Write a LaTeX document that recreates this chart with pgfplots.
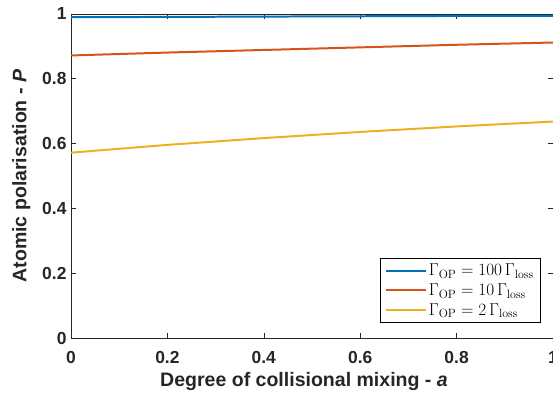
\documentclass[border=0pt]{standalone}
\usepackage[no-math]{fontspec}
\setmainfont{Liberation Sans}
\usepackage{pgfplots}
\pgfplotsset{compat=1.18}
\definecolor{mblue}{rgb}{0,0.447,0.741}
\definecolor{morange}{rgb}{0.85,0.325,0.098}
\definecolor{myellow}{rgb}{0.929,0.694,0.125}
\definecolor{axgray}{rgb}{0.15,0.15,0.15}
\begin{document}
\begin{tikzpicture}
\begin{axis}[
  scale only axis,
  width=482bp, height=324bp,
  xmin=0, xmax=1, ymin=0, ymax=1,
  xtick={0,0.2,0.4,0.6,0.8,1},
  ytick={0,0.2,0.4,0.6,0.8,1},
  tick align=inside,
  major tick length=5bp,
  axis line style={axgray, line width=0.6pt},
  every tick/.style={axgray, line width=0.6pt},
  /pgf/number format/assume math mode=true,
  tick label style={font=\fontsize{17.5}{17.5}\selectfont\bfseries, text=axgray},
  xticklabel style={yshift=-10bp},
  yticklabel style={xshift=-1bp},
  xlabel={Degree of collisional mixing - \textit{a}},
  ylabel={Atomic polarisation - \textit{P}},
  label style={font=\fontsize{19.6}{19.6}\selectfont\bfseries, text=axgray},
  xlabel style={yshift=-2bp, xshift=-8bp},
  ylabel style={yshift=5bp},
  legend cell align=left,
  legend style={at={(1,0)}, anchor=south east, xshift=-12bp, yshift=15bp,
    draw=black, line width=0.6pt, fill=white, inner xsep=5bp, inner ysep=4bp,
    font=\fontsize{17.5}{19}\selectfont, row sep=2.5bp,
    /tikz/every even column/.append style={column sep=0bp}},
  legend image code/.code={\draw[#1, line width=2pt] (0bp,0bp) -- (40bp,0bp);},
]
\addplot[mblue, line width=2pt] coordinates {(0,0.990) (0.2,0.991) (0.4,0.992) (0.6,0.993) (0.8,0.994) (1,0.994)};
\addlegendentry{$\Gamma_{\mathrm{OP}} = 100\,\Gamma_{\mathrm{loss}}$}
\addplot[morange, line width=2pt] coordinates {(0,0.872) (0.2,0.881) (0.4,0.889) (0.6,0.897) (0.8,0.905) (1,0.912)};
\addlegendentry{$\Gamma_{\mathrm{OP}} = 10\,\Gamma_{\mathrm{loss}}$}
\addplot[myellow, line width=2pt] coordinates {(0,0.572) (0.2,0.596) (0.4,0.617) (0.6,0.636) (0.8,0.653) (1,0.668)};
\addlegendentry{$\Gamma_{\mathrm{OP}} = 2\,\Gamma_{\mathrm{loss}}$}
\end{axis}
\pgfresetboundingbox
\path[use as bounding box] ([xshift=-71bp,yshift=-63bp]current axis.south west) rectangle ([yshift=14bp]current axis.north east);
\end{tikzpicture}
\end{document}
